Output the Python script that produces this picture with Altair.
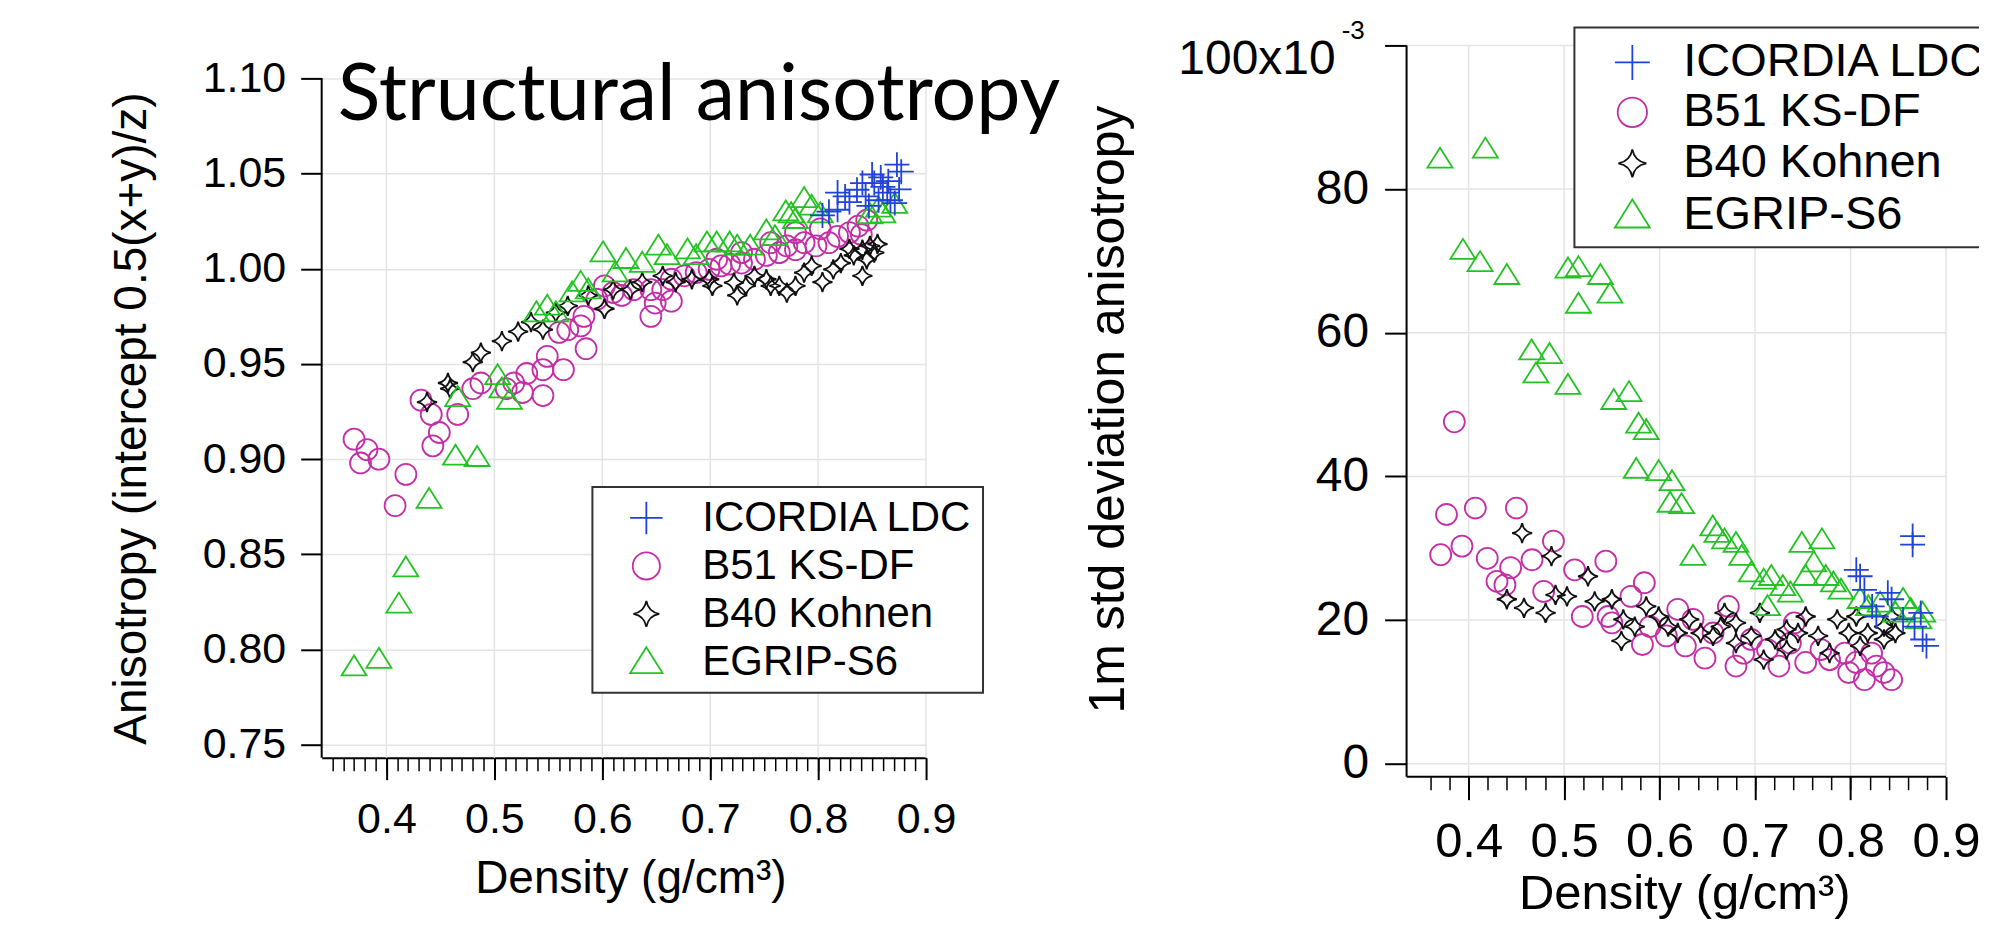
import altair as alt
import pandas as pd

FONT = "Liberation Sans"
SERIES = ["ICORDIA LDC", "B51 KS-DF", "B40 Kohnen", "EGRIP-S6"]
COLORS = ["#2142d8", "#c42ea6", "#111111", "#22c322"]
SHAPES = [
    "M-1,0L1,0M0,-1L0,1",
    "M0.84,0A0.84,0.84,0,1,1,-0.84,0A0.84,0.84,0,1,1,0.84,0Z",
    "M0,-0.8Q0.12,-0.12,0.8,0Q0.12,0.12,0,0.8Q-0.12,0.12,-0.8,0Q-0.12,-0.12,0,-0.8Z",
    "M0,-0.9L1,0.7L-1,0.7Z",
]
DRAW_ORDER = ["B51 KS-DF", "B40 Kohnen", "EGRIP-S6", "ICORDIA LDC"]
TITLE = ["Structural anisotropy"]

# ---------------- left panel: anisotropy ----------------
L_ICORDIA_X = [0.873, 0.877, 0.850, 0.841, 0.818, 0.852, 0.864, 0.860, 0.867, 0.836, 0.810, 0.804,
               0.844, 0.871, 0.829, 0.856, 0.875, 0.818, 0.858, 0.847, 0.825, 0.865]
L_ICORDIA_Y = [1.0547, 1.051, 1.0495, 1.045, 1.040, 1.045, 1.040, 1.043, 1.036, 1.0415, 1.030, 1.028,
               1.038, 1.0345, 1.035, 1.036, 1.0417, 1.031, 1.048, 1.033, 1.038, 1.046]
L_B51_X = [0.370, 0.382, 0.393, 0.376, 0.408, 0.418, 0.4415, 0.449, 0.443, 0.466, 0.432, 0.480,
           0.4875, 0.511, 0.518, 0.526, 0.530, 0.545, 0.545, 0.549, 0.564, 0.560, 0.568, 0.580,
           0.583, 0.585, 0.595, 0.602, 0.610, 0.618, 0.629, 0.645, 0.645, 0.649, 0.656, 0.664,
           0.664, 0.676, 0.687, 0.699, 0.706, 0.710, 0.718, 0.729, 0.729, 0.741, 0.752, 0.756,
           0.764, 0.771, 0.779, 0.779, 0.787, 0.798, 0.802, 0.810, 0.818, 0.829, 0.837, 0.845, 0.840]
L_B51_Y = [0.9105, 0.905, 0.900, 0.898, 0.8756, 0.892, 0.9235, 0.914, 0.907, 0.9235, 0.931, 0.937,
           0.940, 0.937, 0.940, 0.935, 0.945, 0.947, 0.9334, 0.954, 0.947, 0.9666, 0.968, 0.970,
           0.975, 0.958, 0.984, 0.991, 0.9875, 0.986, 0.989, 0.989, 0.975, 0.982, 0.989, 0.9945,
           0.983, 0.9963, 0.998, 0.9997, 1.005, 1.0015, 1.0024, 1.003, 1.0085, 1.005, 1.007, 1.0137,
           1.0085, 1.012, 1.010, 1.019, 1.0137, 1.012, 1.021, 1.0137, 1.017, 1.019, 1.0224, 1.0255, 1.018]
L_B40_X = [0.4376, 0.457, 0.459, 0.480, 0.4875, 0.507, 0.522, 0.534, 0.545, 0.557, 0.568, 0.587,
           0.602, 0.610, 0.626, 0.637, 0.656, 0.668, 0.683, 0.699, 0.702, 0.722, 0.725, 0.733,
           0.741, 0.752, 0.756, 0.764, 0.771, 0.779, 0.787, 0.794, 0.804, 0.814, 0.821, 0.829,
           0.833, 0.841, 0.841, 0.845, 0.848, 0.852, 0.855]
L_B40_Y = [0.930, 0.940, 0.937, 0.951, 0.956, 0.962, 0.967, 0.972, 0.968, 0.977, 0.9805, 0.986,
           0.979, 0.989, 0.989, 0.993, 0.9963, 0.993, 0.9945, 0.9945, 0.991, 0.9927, 0.986, 0.991,
           0.9963, 0.9945, 0.991, 0.991, 0.9875, 0.991, 0.998, 1.0015, 0.993, 0.9997, 1.003, 1.0104,
           1.007, 1.010, 0.9963, 1.005, 1.012, 1.0085, 1.013]
L_EGRIP_X = [0.370, 0.393, 0.4115, 0.418, 0.4395, 0.464, 0.484, 0.466, 0.503, 0.507, 0.514, 0.539,
             0.549, 0.557, 0.572, 0.580, 0.587, 0.6007, 0.612, 0.622, 0.637, 0.652, 0.660, 0.679,
             0.687, 0.697, 0.706, 0.718, 0.725, 0.737, 0.752, 0.760, 0.770, 0.775, 0.779, 0.787,
             0.794, 0.802, 0.848, 0.856, 0.860, 0.871]
L_EGRIP_Y = [0.791, 0.795, 0.824, 0.843, 0.879, 0.9017, 0.901, 0.9325, 0.944, 0.937, 0.931, 0.977,
             0.9805, 0.977, 0.9875, 0.993, 0.989, 1.0085, 0.998, 1.005, 1.003, 1.012, 1.007, 1.010,
             1.007, 1.0137, 1.0137, 1.0137, 1.012, 1.012, 1.020, 1.017, 1.030, 1.029, 1.026, 1.037,
             1.033, 1.029, 1.0285, 1.032, 1.029, 1.034]
L_XMAJOR = [0.4, 0.5, 0.6, 0.7, 0.8, 0.9]
L_XMINOR = [round(0.35 + 0.01 * i, 2) for i in range(55)]
L_YMAJOR = [0.75, 0.80, 0.85, 0.90, 0.95, 1.00, 1.05, 1.10]
L_YTOP = [1.10]

# ---------------- right panel: 1 m std deviation ----------------
R_ICORDIA_X = [0.865, 0.865, 0.806, 0.810, 0.8145, 0.839, 0.843, 0.8226, 0.8735, 0.8755, 0.8795,
               0.855, 0.827, 0.867]
R_ICORDIA_Y = [0.0317, 0.0305, 0.027, 0.0261, 0.0242, 0.0238, 0.0229, 0.0219, 0.021, 0.0173, 0.0164,
               0.0201, 0.0205, 0.0191]
R_B51_X = [0.385, 0.3768, 0.407, 0.450, 0.3707, 0.393, 0.4195, 0.444, 0.4297, 0.438, 0.4664, 0.4888,
           0.4786, 0.511, 0.519, 0.5437, 0.546, 0.550, 0.570, 0.584, 0.582, 0.607, 0.619, 0.627,
           0.6475, 0.672, 0.680, 0.688, 0.713, 0.725, 0.741, 0.753, 0.778, 0.794, 0.798, 0.8145,
           0.827, 0.835, 0.843, 0.806, 0.822, 0.656, 0.737, 0.696, 0.769, 0.635, 0.590]
R_B51_Y = [0.0476, 0.0347, 0.0356, 0.0356, 0.0291, 0.0303, 0.0286, 0.0273, 0.0254, 0.0249, 0.0284,
           0.031, 0.024, 0.027, 0.0205, 0.0282, 0.0205, 0.0196, 0.0233, 0.0252, 0.0166, 0.0178,
           0.0215, 0.0164, 0.0147, 0.0219, 0.0136, 0.0154, 0.0159, 0.0136, 0.0196, 0.0141, 0.0145,
           0.0154, 0.0127, 0.0117, 0.0136, 0.0127, 0.0117, 0.0141, 0.0154, 0.0182, 0.0168, 0.0173,
           0.0159, 0.0201, 0.0191]
R_B40_X = [0.456, 0.4867, 0.440, 0.458, 0.4806, 0.491, 0.503, 0.525, 0.532, 0.550, 0.562, 0.560,
           0.574, 0.586, 0.599, 0.609, 0.619, 0.631, 0.643, 0.656, 0.668, 0.680, 0.680, 0.696,
           0.705, 0.709, 0.721, 0.733, 0.745, 0.753, 0.766, 0.778, 0.786, 0.798, 0.806, 0.818,
           0.835, 0.843, 0.847, 0.835, 0.810, 0.733, 0.664]
R_B40_Y = [0.0321, 0.0289, 0.0229, 0.0217, 0.021, 0.0235, 0.0233, 0.0261, 0.0226, 0.0229, 0.0201,
           0.0171, 0.0191, 0.0219, 0.0205, 0.0191, 0.0182, 0.0201, 0.0182, 0.0178, 0.021, 0.0196,
           0.0168, 0.0178, 0.021, 0.0145, 0.0173, 0.0159, 0.0182, 0.0205, 0.0178, 0.0154, 0.0201,
           0.0182, 0.0205, 0.0182, 0.0191, 0.0205, 0.0182, 0.0173, 0.0164, 0.0187, 0.0191]
R_EGRIP_X = [0.370, 0.4175, 0.394, 0.412, 0.440, 0.504, 0.515, 0.538, 0.548, 0.515, 0.466, 0.4847,
             0.4705, 0.504, 0.552, 0.568, 0.578, 0.586, 0.5755, 0.599, 0.613, 0.611, 0.623, 0.6557,
             0.660, 0.668, 0.680, 0.635, 0.686, 0.696, 0.709, 0.717, 0.729, 0.737, 0.749, 0.770,
             0.7615, 0.753, 0.774, 0.782, 0.790, 0.713, 0.810, 0.8186, 0.831, 0.855, 0.863, 0.8715,
             0.847, 0.8755]
R_EGRIP_Y = [0.0842, 0.0856, 0.0715, 0.0698, 0.068, 0.0689, 0.0691, 0.068, 0.0654, 0.064, 0.0575,
             0.057, 0.0543, 0.0527, 0.0506, 0.0517, 0.0473, 0.0464, 0.041, 0.0407, 0.0393, 0.0363,
             0.0361, 0.033, 0.0321, 0.0312, 0.0307, 0.0289, 0.0289, 0.0266, 0.0256, 0.0261, 0.0247,
             0.0238, 0.0307, 0.0312, 0.028, 0.0261, 0.0261, 0.0252, 0.0242, 0.0219, 0.0229, 0.0219,
             0.0224, 0.0229, 0.0215, 0.0201, 0.021, 0.021]
R_XMAJOR = [0.4, 0.5, 0.6, 0.7, 0.8, 0.9]
R_XMINOR = [round(0.36 + 0.02 * i, 2) for i in range(27)]
R_YMAJOR = [0.0, 0.02, 0.04, 0.06, 0.08, 0.10]
R_XEND = [0.335, 0.9]
R_TOP_LABEL = ["100x10"]
R_TOP_EXP = ["-3"]
R_YTOP = [0.1]


def frame(data):
    rows = []
    for name in DRAW_ORDER:
        xs, ys = data[name]
        for a, b in zip(xs, ys):
            rows.append({"series": name, "x": a, "y": b})
    return pd.DataFrame(rows)


df_L = frame({"ICORDIA LDC": (L_ICORDIA_X, L_ICORDIA_Y), "B51 KS-DF": (L_B51_X, L_B51_Y),
              "B40 Kohnen": (L_B40_X, L_B40_Y), "EGRIP-S6": (L_EGRIP_X, L_EGRIP_Y)})
df_R = frame({"ICORDIA LDC": (R_ICORDIA_X, R_ICORDIA_Y), "B51 KS-DF": (R_B51_X, R_B51_Y),
              "B40 Kohnen": (R_B40_X, R_B40_Y), "EGRIP-S6": (R_EGRIP_X, R_EGRIP_Y)})

GRID = "#e4e4e4"
MSW = 1.8
color_scale = alt.Scale(domain=SERIES, range=COLORS)
shape_scale = alt.Scale(domain=SERIES, range=SHAPES)

# ================= left =================
W_L, H_L = 605, 733
xs_L = alt.Scale(domain=[0.34, 0.9], nice=False, zero=False)
ys_L = alt.Scale(domain=[0.7432, 1.1278], nice=False, zero=False)

ax_y_L = alt.Axis(values=L_YMAJOR, format=".2f", tickSize=21, domain=False, grid=True,
                  labelFontSize=43, labelPadding=15, labelBaseline="middle",
                  title="Anisotropy (intercept 0.5(x+y)/z)", titleFontSize=46,
                  titleAngle=270, titleX=-176, titleY=393, titleBaseline="alphabetic",
                  titleAlign="center")

leg_L = alt.Legend(title=None, orient="none", legendX=271, legendY=462, direction="vertical",
                   strokeColor="#333333", fillColor="white", padding=10, cornerRadius=0,
                   symbolSize=1050, symbolStrokeWidth=MSW, labelFont=FONT, labelFontSize=42,
                   labelColor="black", rowPadding=6, labelOffset=35, symbolOffset=23, labelLimit=0)

grid_L = alt.Chart(pd.DataFrame({"v": L_XMAJOR, "top": L_YTOP * len(L_XMAJOR)})).mark_rule(
    color=GRID, strokeWidth=1.5).encode(
    x=alt.X("v:Q", scale=xs_L,
            axis=alt.Axis(orient="bottom", values=L_XMINOR, labels=False, tickSize=13,
                          tickWidth=1.5, domain=False, grid=False, title=None)),
    y=alt.Y("top:Q", scale=ys_L, axis=ax_y_L),
    y2=alt.value(H_L),
)

dom_L = alt.Chart(pd.DataFrame({"top": L_YTOP})).mark_rule(color="black", strokeWidth=2).encode(
    x=alt.value(0), y=alt.Y("top:Q", scale=ys_L, axis=ax_y_L), y2=alt.value(H_L))

pts_L = alt.Chart(df_L).mark_point(filled=False, size=625, strokeWidth=MSW, opacity=1).encode(
    x=alt.X("x:Q", scale=xs_L,
            axis=alt.Axis(orient="bottom", values=L_XMAJOR, format=".1f", tickSize=22, grid=False,
                          labelFontSize=43, labelBaseline="alphabetic", labelPadding=53,
                          labelFlush=False, title="Density (g/cm³)", titleFontSize=46,
                          titleX=309, titleY=135, titleBaseline="alphabetic")),
    y=alt.Y("y:Q", scale=ys_L, axis=ax_y_L),
    color=alt.Color("series:N", scale=color_scale, legend=leg_L),
    shape=alt.Shape("series:N", scale=shape_scale, legend=leg_L),
)

ttl_L = alt.Chart(pd.DataFrame({"t": TITLE})).mark_text(
    font="Lato", fontSize=79, align="left", baseline="alphabetic", color="black").encode(
    x=alt.value(16), y=alt.value(95), text="t:N")

left = alt.layer(grid_L, dom_L, pts_L, ttl_L).resolve_axis(x="independent").properties(
    width=W_L, height=H_L)

# ================= right =================
W_R, H_R = 573, 752
xs_R = alt.Scale(domain=[0.335, 0.93452], nice=False, zero=False)
ys_R = alt.Scale(domain=[-0.0018, 0.102778], nice=False, zero=False)

ax_x_R = alt.Axis(orient="bottom", values=R_XMAJOR, format=".1f", tickSize=23, grid=False,
                  domain=False, labelFontSize=49, labelBaseline="alphabetic", labelPadding=57,
                  labelFlush=False, title="Density (g/cm³)", titleFontSize=49,
                  titleX=278, titleY=132, titleBaseline="alphabetic")
ax_y_R = alt.Axis(values=R_YMAJOR, tickSize=22, grid=False, domain=False, labelFontSize=48,
                  labelPadding=16, labelBaseline="middle",
                  labelExpr="datum.value > 0.099 ? '' : format(datum.value * 1000, '.0f')",
                  title="1m std deviation anisotropy", titleFontSize=50,
                  titleAngle=270, titleX=-283, titleY=384, titleBaseline="alphabetic",
                  titleAlign="center")

minor_R = alt.Chart(pd.DataFrame({"v": R_XMINOR})).mark_rule(opacity=0).encode(
    x=alt.X("v:Q", scale=xs_R,
            axis=alt.Axis(orient="bottom", values=R_XMINOR, labels=False, tickSize=13,
                          tickWidth=1.5, domain=False, grid=False, title=None)),
    y=alt.value(0), y2=alt.value(1),
)

vgrid_R = alt.Chart(pd.DataFrame({"v": R_XMAJOR, "top": R_YTOP * len(R_XMAJOR)})).mark_rule(
    color=GRID, strokeWidth=1.5).encode(
    x=alt.X("v:Q", scale=xs_R, axis=ax_x_R),
    y=alt.Y("top:Q", scale=ys_R, axis=ax_y_R), y2=alt.value(H_R))

hgrid_R = alt.Chart(pd.DataFrame({"v": R_YMAJOR, "xl": [R_XEND[0]] * len(R_YMAJOR),
                                  "xh": [R_XEND[1]] * len(R_YMAJOR)})).mark_rule(
    color=GRID, strokeWidth=1.5).encode(
    x=alt.X("xl:Q", scale=xs_R, axis=ax_x_R), x2="xh:Q",
    y=alt.Y("v:Q", scale=ys_R, axis=ax_y_R))

xdom_R = alt.Chart(pd.DataFrame({"xl": [R_XEND[0]], "xh": [R_XEND[1]]})).mark_rule(
    color="black", strokeWidth=2).encode(
    x=alt.X("xl:Q", scale=xs_R, axis=ax_x_R), x2="xh:Q", y=alt.value(H_R))

ydom_R = alt.Chart(pd.DataFrame({"top": R_YTOP})).mark_rule(color="black", strokeWidth=2).encode(
    x=alt.value(0), y=alt.Y("top:Q", scale=ys_R, axis=ax_y_R), y2=alt.value(H_R))

pts_R = alt.Chart(df_R).mark_point(filled=False, size=625, strokeWidth=MSW, opacity=1).encode(
    x=alt.X("x:Q", scale=xs_R, axis=ax_x_R),
    y=alt.Y("y:Q", scale=ys_R, axis=ax_y_R),
    color=alt.Color("series:N", scale=color_scale, legend=None),
    shape=alt.Shape("series:N", scale=shape_scale, legend=None),
)

top_R = alt.Chart(pd.DataFrame({"t": R_TOP_LABEL, "top": R_YTOP})).mark_text(
    font=FONT, fontSize=48, align="right", baseline="alphabetic", dy=29, color="black").encode(
    x=alt.value(-71), y=alt.Y("top:Q", scale=ys_R, axis=ax_y_R), text="t:N")

exp_R = alt.Chart(pd.DataFrame({"t": R_TOP_EXP, "top": R_YTOP})).mark_text(
    font=FONT, fontSize=26, align="left", baseline="alphabetic", dy=-6, color="black").encode(
    x=alt.value(-65), y=alt.Y("top:Q", scale=ys_R, axis=ax_y_R), text="t:N")

# legend of the right panel (runs off the right edge of the picture, as in the original)
LEG_R_BOX = dict(x=168, x2=720, y=2, y2=222)
LEG_R_SYM_X = 226
LEG_R_TXT_X = 277
LEG_R_ROWS = [37, 87, 138, 190]

legbox_R = alt.Chart(pd.DataFrame({"k": [0]})).mark_rect(
    fill="white", stroke="#333333", strokeWidth=2, clip=True).encode(
    x=alt.value(LEG_R_BOX["x"]), x2=alt.value(LEG_R_BOX["x2"]),
    y=alt.value(LEG_R_BOX["y"]), y2=alt.value(LEG_R_BOX["y2"]))

leg_layers = []
for i, name in enumerate(SERIES):
    src = alt.Chart(pd.DataFrame({"series": [name]}))
    leg_layers.append(src.mark_point(filled=False, size=1225, strokeWidth=MSW, opacity=1,
                                     clip=True).encode(
        x=alt.value(LEG_R_SYM_X), y=alt.value(LEG_R_ROWS[i]),
        color=alt.Color("series:N", scale=color_scale, legend=None),
        shape=alt.Shape("series:N", scale=shape_scale, legend=None)))
    leg_layers.append(src.transform_calculate(
        lab="datum.series == 'B51 KS-DF' ? datum.series : '\u00a0' + datum.series"
    ).mark_text(font=FONT, fontSize=47, align="left", baseline="middle", color="black",
                clip=True).encode(
        x=alt.value(LEG_R_TXT_X), y=alt.value(LEG_R_ROWS[i]), text="lab:N"))

inner_R = alt.layer(vgrid_R, hgrid_R, xdom_R, ydom_R, pts_R, top_R, exp_R, legbox_R, *leg_layers)
right = alt.layer(minor_R, inner_R).resolve_axis(x="independent").properties(
    width=W_R, height=H_R)

chart = alt.hconcat(left, right, spacing=481, bounds="flush").resolve_scale(
    color="independent", shape="independent"
).properties(
    padding={"left": 101, "top": 9, "right": 0, "bottom": 0}
).configure_view(stroke=None).configure_axis(
    labelFont=FONT, titleFont=FONT, labelColor="black", titleColor="black",
    titleFontWeight="normal", domainColor="black", domainWidth=2, tickColor="black",
    tickWidth=2, gridColor=GRID, gridWidth=1.5
).configure_legend(strokeWidth=2)

chart.save("out.html", embed_options={"renderer": "svg", "actions": False})
